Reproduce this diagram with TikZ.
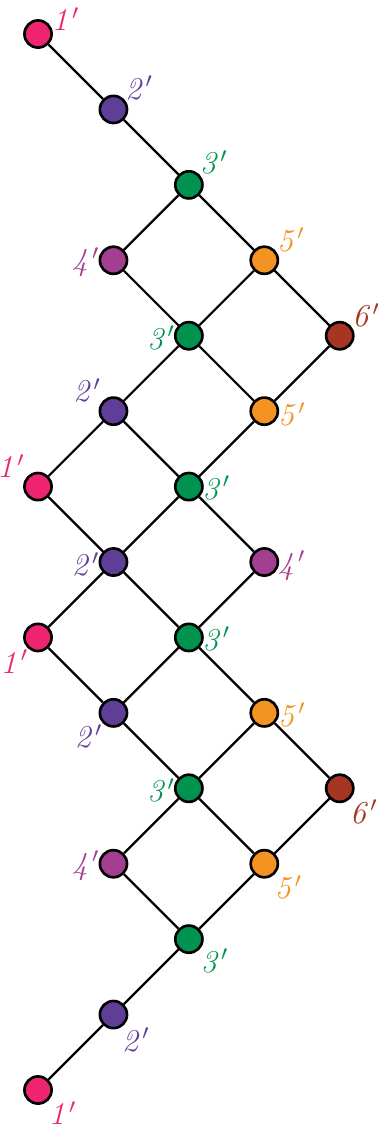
\documentclass[tikz,border=0pt]{standalone}
\usepackage{tikz}
\usetikzlibrary{shapes.geometric, arrows}
\definecolor{cone}{HTML}{EE2470}
\definecolor{ctwo}{HTML}{5F3E97}
\definecolor{cthree}{HTML}{00934F}
\definecolor{cfour}{HTML}{A43E91}
\definecolor{cfive}{HTML}{F39321}
\definecolor{csix}{HTML}{A63523}
\tikzstyle{vert} = [circle, minimum size=0.36cm, inner sep=0pt, draw=black, line width=1pt]
\tikzstyle{edge} = [line width=0.85pt]
\tikzstyle{labd} = [font=\large, anchor=center, inner sep=0pt, label distance=0.25cm]
\tikzstyle{labs} = [font=\large, anchor=center, inner sep=0pt, label distance=0.17cm]

\begin{document}
\begin{tikzpicture}
    \useasboundingbox (-0.504,-14.517) rectangle (4.496,0.451);
    \node (a0) [vert, fill=cone, label={[labd, cone, label distance=0.22cm]28:$\mathit{1}'$}] at (0,0) {};
    \node (a1) [vert, fill=ctwo, label={[labd, ctwo]40:$\mathit{2}'$}] at (1,-1) {};
    \node (a2) [vert, fill=cthree, label={[labd, cthree]42:$\mathit{3}'$}] at (2,-2) {};
    \node (b3) [vert, fill=cfour, label={[labs, cfour]184:$\mathit{4}'$}] at (1,-3) {};
    \node (c3) [vert, fill=cfive, label={[labd, cfive]38:$\mathit{5}'$}] at (3,-3) {};
    \node (b4) [vert, fill=cthree, label={[labs, cthree]184:$\mathit{3}'$}] at (2,-4) {};
    \node (c4) [vert, fill=csix, label={[labd, csix]38:$\mathit{6}'$}] at (4,-4) {};
    \node (b5) [vert, fill=ctwo, label={[labd, ctwo]141:$\mathit{2}'$}] at (1,-5) {};
    \node (c5) [vert, fill=cfive, label={[labs, cfive]-6:$\mathit{5}'$}] at (3,-5) {};
    \node (b6) [vert, fill=cone, label={[labd, cone]143:$\mathit{1}'$}] at (0,-6) {};
    \node (c6) [vert, fill=cthree, label={[labs, cthree]-2:$\mathit{3}'$}] at (2,-6) {};
    \node (b7) [vert, fill=ctwo, label={[labs, ctwo]184:$\mathit{2}'$}] at (1,-7) {};
    \node (c7) [vert, fill=cfour, label={[labs, cfour]-8:$\mathit{4}'$}] at (3,-7) {};
    \node (b8) [vert, fill=cone, label={[labd, cone]-134:$\mathit{1}'$}] at (0,-8) {};
    \node (c8) [vert, fill=cthree, label={[labs, cthree]-2:$\mathit{3}'$}] at (2,-8) {};
    \node (b9) [vert, fill=ctwo, label={[labd, ctwo]-137:$\mathit{2}'$}] at (1,-9) {};
    \node (c9) [vert, fill=cfive, label={[labs, cfive]-4:$\mathit{5}'$}] at (3,-9) {};
    \node (b10) [vert, fill=cthree, label={[labs, cthree]184:$\mathit{3}'$}] at (2,-10) {};
    \node (c10) [vert, fill=csix, label={[labd, csix]-44:$\mathit{6}'$}] at (4,-10) {};
    \node (b11) [vert, fill=cfour, label={[labs, cfour]184:$\mathit{4}'$}] at (1,-11) {};
    \node (c11) [vert, fill=cfive, label={[labd, cfive]-44:$\mathit{5}'$}] at (3,-11) {};
    \node (a12) [vert, fill=cthree, label={[labd, cthree]-40:$\mathit{3}'$}] at (2,-12) {};
    \node (a13) [vert, fill=ctwo, label={[labd, ctwo]-48:$\mathit{2}'$}] at (1,-13) {};
    \node (a14) [vert, fill=cone, label={[labd, cone]-43:$\mathit{1}'$}] at (0,-14) {};

    \draw [edge] (a0) -- (a1);
    \draw [edge] (a1) -- (a2);
    \draw [edge] (a2) -- (b3);
    \draw [edge] (a2) -- (c3);
    \draw [edge] (b3) -- (b4);
    \draw [edge] (c3) -- (b4);
    \draw [edge] (c3) -- (c4);
    \draw [edge] (b4) -- (b5);
    \draw [edge] (b4) -- (c5);
    \draw [edge] (c4) -- (c5);
    \draw [edge] (b5) -- (b6);
    \draw [edge] (b5) -- (c6);
    \draw [edge] (c5) -- (c6);
    \draw [edge] (b6) -- (b7);
    \draw [edge] (c6) -- (b7);
    \draw [edge] (c6) -- (c7);
    \draw [edge] (b7) -- (b8);
    \draw [edge] (b7) -- (c8);
    \draw [edge] (c7) -- (c8);
    \draw [edge] (b8) -- (b9);
    \draw [edge] (c8) -- (b9);
    \draw [edge] (c8) -- (c9);
    \draw [edge] (b9) -- (b10);
    \draw [edge] (c9) -- (b10);
    \draw [edge] (c9) -- (c10);
    \draw [edge] (b10) -- (b11);
    \draw [edge] (b10) -- (c11);
    \draw [edge] (c10) -- (c11);
    \draw [edge] (b11) -- (a12);
    \draw [edge] (c11) -- (a12);
    \draw [edge] (a12) -- (a13);
    \draw [edge] (a13) -- (a14);
\end{tikzpicture}
\end{document}
